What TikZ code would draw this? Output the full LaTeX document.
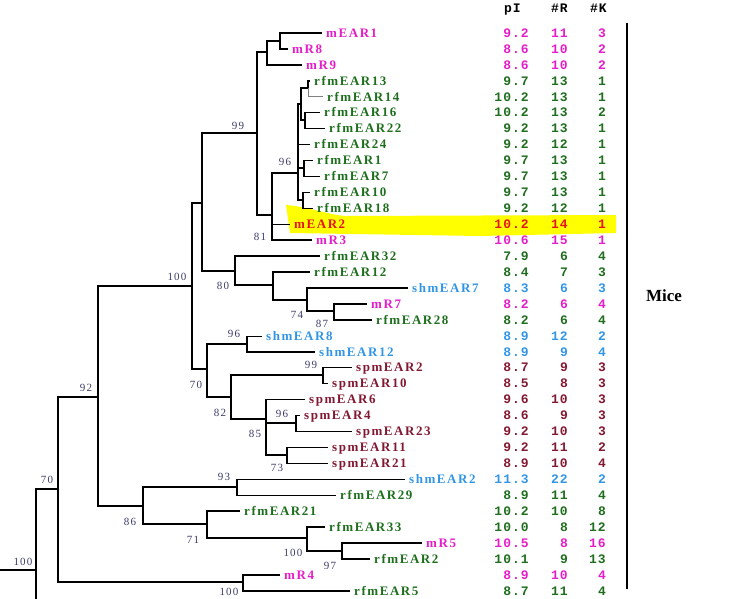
\documentclass[tikz,border=0pt]{standalone}
\usepackage{fontspec}
\setmainfont{Liberation Serif}
\newfontfamily\leaffont[LetterSpace=12]{Liberation Serif}
\newfontfamily\suppfont[LetterSpace=10]{Liberation Serif}
\newfontfamily\numfont[LetterSpace=8]{Liberation Mono}
\definecolor{mag}{RGB}{228,30,200}
\definecolor{grn}{RGB}{30,110,30}
\definecolor{blu}{RGB}{50,150,230}
\definecolor{mar}{RGB}{130,25,50}
\definecolor{redd}{RGB}{230,20,20}
\definecolor{suppcol}{RGB}{60,60,105}
\definecolor{hl}{RGB}{255,255,0}

\begin{document}
\begin{tikzpicture}[x=1pt,y=-1pt,
    leaf/.style={anchor=west,inner xsep=4pt,inner ysep=0pt,text height=8.5pt,text depth=0pt,
        font=\leaffont\fontsize{13}{13}\selectfont\bfseries},
    num/.style={anchor=east,inner sep=0pt,text height=8.5pt,text depth=0pt,
        font=\numfont\fontsize{13}{13}\selectfont\bfseries},
    supp/.style={inner sep=0pt,text=suppcol,font=\suppfont\fontsize{11}{11}\selectfont},
    elbow/.style={draw,line width=1.5pt,to path={|- (\tikztotarget)}},
    faint/.style={draw=gray,line width=0.8pt,to path={|- (\tikztotarget)}}]
    \useasboundingbox (0,0) rectangle (742,598);
    \clip (0,0) rectangle (742,598);

    % highlight of mEAR2
    \fill[hl] (286,205) .. controls (310,207) and (325,214) .. (345,216) -- (616,215)
        -- (616,233) -- (480,236) -- (290,233) -- cycle;

    % leaves
    \node[leaf,mag] (mEAR1) at (322,33) {mEAR1};
    \node[leaf,mag] (mR8) at (288,48.9) {mR8};
    \node[leaf,mag] (mR9) at (302,64.9) {mR9};
    \node[leaf,grn] (rfmEAR13) at (310,80.8) {rfmEAR13};
    \node[leaf,grn] (rfmEAR14) at (323,96.8) {rfmEAR14};
    \node[leaf,grn] (rfmEAR16) at (320,112.7) {rfmEAR16};
    \node[leaf,grn] (rfmEAR22) at (325,128.6) {rfmEAR22};
    \node[leaf,grn] (rfmEAR24) at (310,144.6) {rfmEAR24};
    \node[leaf,grn] (rfmEAR1) at (313,160.5) {rfmEAR1};
    \node[leaf,grn] (rfmEAR7) at (320,176.5) {rfmEAR7};
    \node[leaf,grn] (rfmEAR10) at (310,192.4) {rfmEAR10};
    \node[leaf,grn] (rfmEAR18) at (313,208.3) {rfmEAR18};
    \node[leaf,redd] (mEAR2) at (290,224.3) {mEAR2};
    \node[leaf,mag] (mR3) at (312,240.2) {mR3};
    \node[leaf,grn] (rfmEAR32) at (320,256.2) {rfmEAR32};
    \node[leaf,grn] (rfmEAR12) at (310,272.1) {rfmEAR12};
    \node[leaf,blu] (shmEAR7) at (408,288) {shmEAR7};
    \node[leaf,mag] (mR7) at (367,304) {mR7};
    \node[leaf,grn] (rfmEAR28) at (372,319.9) {rfmEAR28};
    \node[leaf,blu] (shmEAR8) at (262,336.5) {shmEAR8};
    \node[leaf,blu] (shmEAR12) at (315,351.8) {shmEAR12};
    \node[leaf,mar] (spmEAR2) at (352,367.7) {spmEAR2};
    \node[leaf,mar] (spmEAR10) at (328,383.7) {spmEAR10};
    \node[leaf,mar] (spmEAR6) at (305,399.6) {spmEAR6};
    \node[leaf,mar] (spmEAR4) at (300,415.6) {spmEAR4};
    \node[leaf,mar] (spmEAR23) at (352,431.5) {spmEAR23};
    \node[leaf,mar] (spmEAR11) at (328,447.4) {spmEAR11};
    \node[leaf,mar] (spmEAR21) at (328,463.4) {spmEAR21};
    \node[leaf,blu] (shmEAR2) at (405,479.3) {shmEAR2};
    \node[leaf,grn] (rfmEAR29) at (336,495.3) {rfmEAR29};
    \node[leaf,grn] (rfmEAR21) at (240,511.2) {rfmEAR21};
    \node[leaf,grn] (rfmEAR33) at (325,527.1) {rfmEAR33};
    \node[leaf,mag] (mR5) at (422,543.1) {mR5};
    \node[leaf,grn] (rfmEAR2) at (370,559) {rfmEAR2};
    \node[leaf,mag] (mR4) at (280,575) {mR4};
    \node[leaf,grn] (rfmEAR5) at (350,590.9) {rfmEAR5};

    % inner nodes
    \coordinate (nA) at (280,41);
    \coordinate (nB) at (267,52);
    \coordinate (n99) at (257,133);
    \coordinate (nX) at (202,203);
    \coordinate (n81) at (272,215);
    \coordinate (n96) at (298,173);
    \coordinate (nC) at (301,104);
    \coordinate (nD) at (308,88);
    \coordinate (nE) at (305,120);
    \coordinate (nF) at (304,168);
    \coordinate (nG) at (303,200);
    \coordinate (n100) at (192,286);
    \coordinate (n80) at (235,271);
    \coordinate (nH) at (273,285);
    \coordinate (n74) at (307,300);
    \coordinate (n87) at (334,311);
    \coordinate (n70b) at (207,369);
    \coordinate (n96b) at (247,344);
    \coordinate (n82) at (231,397);
    \coordinate (n99b) at (323,375);
    \coordinate (n85) at (266,419);
    \coordinate (n96c) at (296,423);
    \coordinate (n73) at (287,455);
    \coordinate (n92) at (98,397);
    \coordinate (n86) at (143,506);
    \coordinate (n93) at (237,487);
    \coordinate (n71) at (207,524);
    \coordinate (n100c) at (307,538);
    \coordinate (n97) at (342,551);
    \coordinate (n70) at (58,489);
    \coordinate (nI) at (243,582);
    \coordinate (root) at (36,570);
    \coordinate (stem) at (0,570);
    \coordinate (rootlow) at (36,612);

    \path
        (stem) edge[elbow] (root)
        (root) edge[elbow] (rootlow)
        (root) edge[elbow] (n70)
        (n70) edge[elbow] (n92)
        (n70) edge[elbow] (nI)
        (nI) edge[elbow] (mR4.west)
        (nI) edge[elbow] (rfmEAR5.west)
        (n92) edge[elbow] (n100)
        (n92) edge[elbow] (n86)
        (n86) edge[elbow] (n93)
        (n86) edge[elbow] (n71)
        (n93) edge[elbow] (shmEAR2.west)
        (n93) edge[elbow] (rfmEAR29.west)
        (n71) edge[elbow] (rfmEAR21.west)
        (n71) edge[elbow] (n100c)
        (n100c) edge[elbow] (rfmEAR33.west)
        (n100c) edge[elbow] (n97)
        (n97) edge[elbow] (mR5.west)
        (n97) edge[elbow] (rfmEAR2.west)
        (n100) edge[elbow] (nX)
        (n100) edge[elbow] (n70b)
        (nX) edge[elbow] (n99)
        (nX) edge[elbow] (n80)
        (n99) edge[elbow] (nB)
        (n99) edge[elbow] (n81)
        (nB) edge[elbow] (nA)
        (nB) edge[elbow] (mR9.west)
        (nA) edge[elbow] (mEAR1.west)
        (nA) edge[elbow] (mR8.west)
        (n81) edge[elbow] (n96)
        (n81) edge[elbow] (mEAR2.west)
        (n81) edge[elbow] (mR3.west)
        (n96) edge[elbow] (nC)
        (n96) edge[elbow] (rfmEAR24.west)
        (n96) edge[elbow] (nF)
        (n96) edge[elbow] (nG)
        (nC) edge[elbow] (nD)
        (nC) edge[elbow] (nE)
        (nD) edge[elbow] (rfmEAR13.west)
        (nD) edge[faint] (rfmEAR14.west)
        (nE) edge[elbow] (rfmEAR16.west)
        (nE) edge[elbow] (rfmEAR22.west)
        (nF) edge[elbow] (rfmEAR1.west)
        (nF) edge[elbow] (rfmEAR7.west)
        (nG) edge[elbow] (rfmEAR10.west)
        (nG) edge[elbow] (rfmEAR18.west)
        (n80) edge[elbow] (rfmEAR32.west)
        (n80) edge[elbow] (nH)
        (nH) edge[elbow] (rfmEAR12.west)
        (nH) edge[elbow] (n74)
        (n74) edge[elbow] (shmEAR7.west)
        (n74) edge[elbow] (n87)
        (n87) edge[elbow] (mR7.west)
        (n87) edge[elbow] (rfmEAR28.west)
        (n70b) edge[elbow] (n96b)
        (n70b) edge[elbow] (n82)
        (n96b) edge[elbow] (shmEAR8.west)
        (n96b) edge[elbow] (shmEAR12.west)
        (n82) edge[elbow] (n99b)
        (n82) edge[elbow] (n85)
        (n99b) edge[elbow] (spmEAR2.west)
        (n99b) edge[elbow] (spmEAR10.west)
        (n85) edge[elbow] (spmEAR6.west)
        (n85) edge[elbow] (n96c)
        (n85) edge[elbow] (n73)
        (n96c) edge[elbow] (spmEAR4.west)
        (n96c) edge[elbow] (spmEAR23.west)
        (n73) edge[elbow] (spmEAR11.west)
        (n73) edge[elbow] (spmEAR21.west);

    % bootstrap values
    \node[supp] (s99a) at (238,126) {99};
    \node[supp] (s96a) at (285,162) {96};
    \node[supp] (s81) at (260,237) {81};
    \node[supp] (s100a) at (177,277) {100};
    \node[supp] (s80) at (223,286) {80};
    \node[supp] (s74) at (297,315) {74};
    \node[supp] (s87) at (322,324) {87};
    \node[supp] (s96b) at (234,334) {96};
    \node[supp] (s70b) at (196,385) {70};
    \node[supp] (s99b) at (311,365) {99};
    \node[supp] (s82) at (220,413) {82};
    \node[supp] (s96c) at (282,414) {96};
    \node[supp] (s85) at (255,434) {85};
    \node[supp] (s73) at (277,468) {73};
    \node[supp] (s93) at (224,477) {93};
    \node[supp] (s86) at (130,522) {86};
    \node[supp] (s71) at (193,540) {71};
    \node[supp] (s100c) at (293,553) {100};
    \node[supp] (s97) at (330,566) {97};
    \node[supp] (s92) at (86,388) {92};
    \node[supp] (s70) at (47,480) {70};
    \node[supp] (s100r) at (23,562) {100};
    \node[supp] (s100e) at (229,592) {100};

    % table
    \node[num] (hpI) at (521,8) {pI};
    \node[num] (hR) at (568,8) {\#R};
    \node[num] (hK) at (607,8) {\#K};
    \node[num,mag] (p0) at (529,33) {9.2}; \node[num,mag] (r0) at (568,33) {11}; \node[num,mag] (k0) at (606,33) {3};
    \node[num,mag] (p1) at (529,48.9) {8.6}; \node[num,mag] (r1) at (568,48.9) {10}; \node[num,mag] (k1) at (606,48.9) {2};
    \node[num,mag] (p2) at (529,64.9) {8.6}; \node[num,mag] (r2) at (568,64.9) {10}; \node[num,mag] (k2) at (606,64.9) {2};
    \node[num,grn] (p3) at (529,80.8) {9.7}; \node[num,grn] (r3) at (568,80.8) {13}; \node[num,grn] (k3) at (606,80.8) {1};
    \node[num,grn] (p4) at (529,96.8) {10.2}; \node[num,grn] (r4) at (568,96.8) {13}; \node[num,grn] (k4) at (606,96.8) {1};
    \node[num,grn] (p5) at (529,112.7) {10.2}; \node[num,grn] (r5) at (568,112.7) {13}; \node[num,grn] (k5) at (606,112.7) {2};
    \node[num,grn] (p6) at (529,128.6) {9.2}; \node[num,grn] (r6) at (568,128.6) {13}; \node[num,grn] (k6) at (606,128.6) {1};
    \node[num,grn] (p7) at (529,144.6) {9.2}; \node[num,grn] (r7) at (568,144.6) {12}; \node[num,grn] (k7) at (606,144.6) {1};
    \node[num,grn] (p8) at (529,160.5) {9.7}; \node[num,grn] (r8) at (568,160.5) {13}; \node[num,grn] (k8) at (606,160.5) {1};
    \node[num,grn] (p9) at (529,176.5) {9.7}; \node[num,grn] (r9) at (568,176.5) {13}; \node[num,grn] (k9) at (606,176.5) {1};
    \node[num,grn] (p10) at (529,192.4) {9.7}; \node[num,grn] (r10) at (568,192.4) {13}; \node[num,grn] (k10) at (606,192.4) {1};
    \node[num,grn] (p11) at (529,208.3) {9.2}; \node[num,grn] (r11) at (568,208.3) {12}; \node[num,grn] (k11) at (606,208.3) {1};
    \node[num,redd] (p12) at (529,224.3) {10.2}; \node[num,redd] (r12) at (568,224.3) {14}; \node[num,redd] (k12) at (606,224.3) {1};
    \node[num,mag] (p13) at (529,240.2) {10.6}; \node[num,mag] (r13) at (568,240.2) {15}; \node[num,mag] (k13) at (606,240.2) {1};
    \node[num,grn] (p14) at (529,256.2) {7.9}; \node[num,grn] (r14) at (568,256.2) {6}; \node[num,grn] (k14) at (606,256.2) {4};
    \node[num,grn] (p15) at (529,272.1) {8.4}; \node[num,grn] (r15) at (568,272.1) {7}; \node[num,grn] (k15) at (606,272.1) {3};
    \node[num,blu] (p16) at (529,288) {8.3}; \node[num,blu] (r16) at (568,288) {6}; \node[num,blu] (k16) at (606,288) {3};
    \node[num,mag] (p17) at (529,304) {8.2}; \node[num,mag] (r17) at (568,304) {6}; \node[num,mag] (k17) at (606,304) {4};
    \node[num,grn] (p18) at (529,319.9) {8.2}; \node[num,grn] (r18) at (568,319.9) {6}; \node[num,grn] (k18) at (606,319.9) {4};
    \node[num,blu] (p19) at (529,335.9) {8.9}; \node[num,blu] (r19) at (568,335.9) {12}; \node[num,blu] (k19) at (606,335.9) {2};
    \node[num,blu] (p20) at (529,351.8) {8.9}; \node[num,blu] (r20) at (568,351.8) {9}; \node[num,blu] (k20) at (606,351.8) {4};
    \node[num,mar] (p21) at (529,367.7) {8.7}; \node[num,mar] (r21) at (568,367.7) {9}; \node[num,mar] (k21) at (606,367.7) {3};
    \node[num,mar] (p22) at (529,383.7) {8.5}; \node[num,mar] (r22) at (568,383.7) {8}; \node[num,mar] (k22) at (606,383.7) {3};
    \node[num,mar] (p23) at (529,399.6) {9.6}; \node[num,mar] (r23) at (568,399.6) {10}; \node[num,mar] (k23) at (606,399.6) {3};
    \node[num,mar] (p24) at (529,415.6) {8.6}; \node[num,mar] (r24) at (568,415.6) {9}; \node[num,mar] (k24) at (606,415.6) {3};
    \node[num,mar] (p25) at (529,431.5) {9.2}; \node[num,mar] (r25) at (568,431.5) {10}; \node[num,mar] (k25) at (606,431.5) {3};
    \node[num,mar] (p26) at (529,447.4) {9.2}; \node[num,mar] (r26) at (568,447.4) {11}; \node[num,mar] (k26) at (606,447.4) {2};
    \node[num,mar] (p27) at (529,463.4) {8.9}; \node[num,mar] (r27) at (568,463.4) {10}; \node[num,mar] (k27) at (606,463.4) {4};
    \node[num,blu] (p28) at (529,479.3) {11.3}; \node[num,blu] (r28) at (568,479.3) {22}; \node[num,blu] (k28) at (606,479.3) {2};
    \node[num,grn] (p29) at (529,495.3) {8.9}; \node[num,grn] (r29) at (568,495.3) {11}; \node[num,grn] (k29) at (606,495.3) {4};
    \node[num,grn] (p30) at (529,511.2) {10.2}; \node[num,grn] (r30) at (568,511.2) {10}; \node[num,grn] (k30) at (606,511.2) {8};
    \node[num,grn] (p31) at (529,527.1) {10.0}; \node[num,grn] (r31) at (568,527.1) {8}; \node[num,grn] (k31) at (606,527.1) {12};
    \node[num,mag] (p32) at (529,543.1) {10.5}; \node[num,mag] (r32) at (568,543.1) {8}; \node[num,mag] (k32) at (606,543.1) {16};
    \node[num,grn] (p33) at (529,559) {10.1}; \node[num,grn] (r33) at (568,559) {9}; \node[num,grn] (k33) at (606,559) {13};
    \node[num,mag] (p34) at (529,575) {8.9}; \node[num,mag] (r34) at (568,575) {10}; \node[num,mag] (k34) at (606,575) {4};
    \node[num,grn] (p35) at (529,590.9) {8.7}; \node[num,grn] (r35) at (568,590.9) {11}; \node[num,grn] (k35) at (606,590.9) {4};

    % group bar
    \coordinate (barTop) at (627,23);
    \coordinate (barBot) at (627,589);
    \draw[line width=2.5pt] (barTop) -- (barBot);
    \node[font=\fontsize{17}{17}\selectfont\bfseries] (mice) at (664,296) {Mice};
\end{tikzpicture}
\end{document}
